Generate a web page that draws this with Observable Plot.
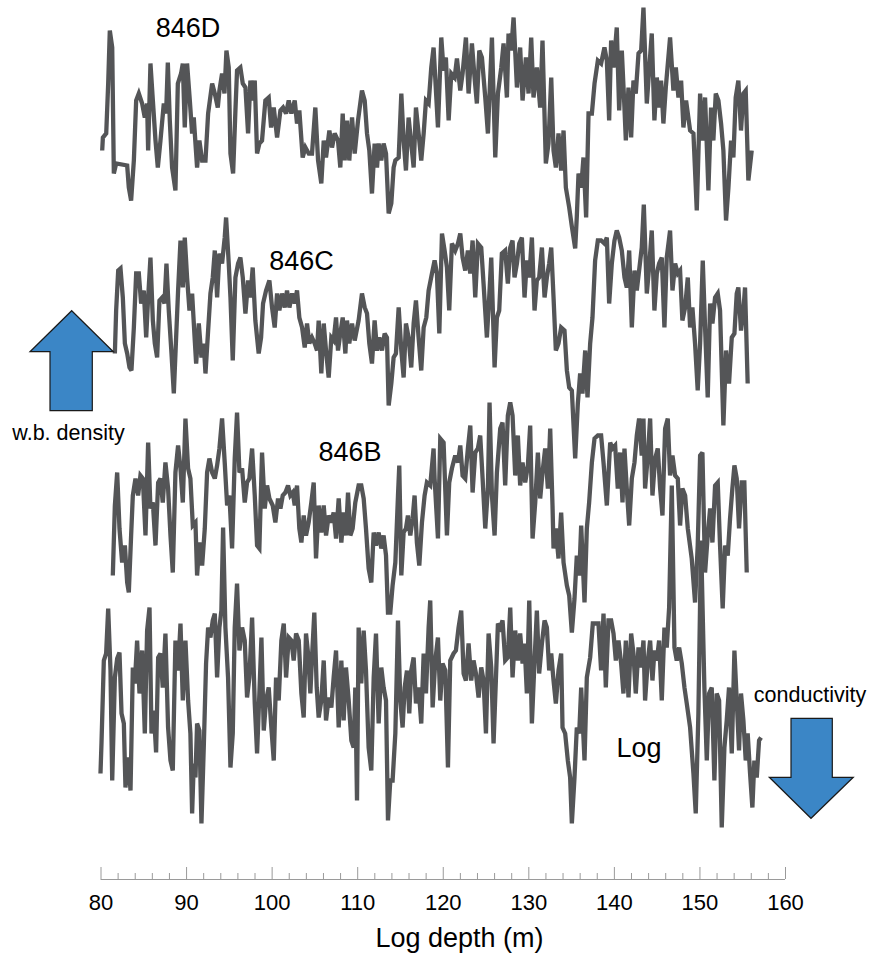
<!DOCTYPE html>
<html>
<head>
<meta charset="utf-8">
<script src="https://cdn.jsdelivr.net/npm/d3@7"></script>
<script src="https://cdn.jsdelivr.net/npm/@observablehq/plot@0.6"></script>
<style>
  html, body { margin: 0; padding: 0; background: #fff; }
  #chart { width: 871px; height: 957px; }
  svg { font-family: "Liberation Sans", Arial, Helvetica, sans-serif; }
</style>
</head>
<body>
<div id="chart"></div>
<script>
// ---- DATA (depth in m, signal value in arbitrary stacked units) ----
const seriesNames = ["846D", "846C", "846B", "Log"];
const arrowLabels = ["w.b. density", "conductivity"];
const axisTitle = "Log depth (m)";
const majorTicks = [80, 90, 100, 110, 120, 130, 140, 150, 160];
const minorTicks = [82, 84, 86, 88, 92, 94, 96, 98, 102, 104, 106, 108, 112, 114, 116, 118, 122, 124, 126, 128, 132, 134, 136, 138, 142, 144, 146, 148, 152, 154, 156, 158];

const hole846D = [[80.14,716],[80.22,729],[80.61,733],[80.84,783],[81.03,836],[81.31,819],[81.50,693],[81.77,703],[83.06,701],[83.25,679],[83.52,666],[83.84,706],[84.11,766],[84.42,773],[84.81,763],[85.12,749],[85.39,763],[85.51,716],[85.78,803],[86.06,766],[86.37,726],[86.64,699],[86.95,726],[87.34,763],[87.61,753],[87.81,804],[88.04,746],[88.31,699],[88.70,676],[88.98,783],[89.36,793],[89.56,803],[89.79,739],[90.06,803],[90.38,766],[90.65,733],[90.84,749],[91.23,699],[91.50,726],[91.82,706],[92.21,706],[92.52,753],[92.99,783],[93.30,773],[93.65,759],[93.84,776],[94.15,793],[94.43,773],[94.66,816],[94.93,799],[95.13,713],[95.44,693],[95.71,756],[95.90,796],[96.29,799],[96.57,783],[96.88,779],[97.19,733],[97.46,786],[97.66,766],[97.97,786],[98.24,713],[98.51,723],[98.82,726],[99.21,766],[99.60,769],[99.88,739],[100.19,759],[100.58,729],[100.97,756],[101.28,759],[101.63,753],[101.94,766],[102.25,753],[102.64,766],[102.91,743],[103.18,756],[103.57,709],[103.89,719],[104.28,713],[104.66,713],[105.05,759],[105.37,706],[105.75,683],[106.03,726],[106.30,709],[106.69,736],[107.00,719],[107.31,733],[107.70,726],[107.97,699],[108.25,753],[108.48,706],[108.75,746],[109.02,706],[109.34,749],[109.65,713],[110.04,746],[110.50,776],[110.82,766],[111.09,733],[111.36,716],[111.67,673],[111.98,723],[112.26,699],[112.45,723],[112.76,706],[113.03,723],[113.31,713],[113.62,653],[113.93,663],[114.20,699],[114.40,706],[114.79,709],[115.10,773],[115.37,726],[115.64,696],[115.95,749],[116.26,723],[116.54,699],[116.81,759],[117.12,733],[117.43,706],[117.71,733],[117.98,766],[118.29,763],[118.60,799],[118.87,819],[119.38,739],[119.77,829],[120.04,796],[120.31,809],[120.63,746],[120.94,793],[121.33,789],[121.60,808],[121.99,776],[122.26,793],[122.65,829],[122.96,773],[123.35,823],[123.66,789],[123.93,763],[124.21,816],[124.52,809],[124.91,769],[125.22,733],[125.69,829],[126.08,709],[126.39,773],[126.78,799],[127.05,823],[127.44,769],[127.63,833],[127.94,816],[128.22,849],[128.61,779],[128.99,819],[129.27,766],[129.66,809],[129.97,773],[130.28,829],[130.55,769],[130.94,799],[131.33,759],[131.60,826],[131.99,703],[132.30,723],[132.62,789],[132.89,716],[133.16,699],[133.47,733],[133.78,696],[134.06,736],[134.33,679],[134.72,659],[135.03,640],[135.42,618],[135.61,650],[135.81,693],[136.12,679],[136.39,709],[136.70,649],[136.98,753],[137.37,753],[137.68,783],[138.07,806],[138.45,803],[138.84,819],[139.12,806],[139.39,746],[139.62,826],[139.90,799],[140.28,839],[140.56,756],[140.87,816],[141.14,766],[141.34,726],[141.65,779],[141.96,729],[142.23,786],[142.50,773],[142.82,813],[143.13,816],[143.40,859],[143.79,763],[144.06,796],[144.37,833],[144.68,746],[144.96,789],[145.23,759],[145.46,786],[145.73,743],[146.01,779],[146.51,829],[146.90,776],[147.18,799],[147.49,769],[147.80,786],[148.07,739],[148.38,766],[148.85,736],[149.24,733],[149.63,656],[150.02,773],[150.29,726],[150.60,769],[150.99,676],[151.30,759],[151.57,726],[151.85,773],[152.16,766],[152.47,743],[152.74,716],[153.05,646],[153.33,679],[153.64,726],[153.91,709],[154.18,769],[154.49,786],[154.80,736],[155.08,773],[155.35,776],[155.66,686],[156.05,716]];

const hole846C = [[81.62,513],[81.77,556],[82.01,596],[82.28,598],[82.55,569],[82.79,523],[83.06,513],[83.33,499],[83.56,496],[83.84,539],[84.11,593],[84.42,593],[84.69,563],[85.00,576],[85.28,529],[85.51,569],[85.78,609],[86.06,546],[86.29,523],[86.56,509],[86.83,566],[87.15,569],[87.42,563],[87.65,603],[87.92,556],[88.24,513],[88.51,473],[88.78,529],[89.01,576],[89.29,626],[89.56,579],[89.79,629],[90.06,589],[90.34,556],[90.65,573],[90.96,526],[91.12,503],[91.43,543],[91.74,509],[92.01,523],[92.21,493],[92.52,536],[92.79,573],[93.06,589],[93.30,616],[93.57,569],[93.84,613],[94.15,603],[94.46,629],[94.62,649],[94.93,603],[95.13,569],[95.40,506],[95.71,589],[96.02,603],[96.29,609],[96.57,589],[96.88,553],[97.19,586],[97.46,569],[97.73,599],[98.04,546],[98.43,513],[98.71,529],[98.94,563],[99.29,576],[99.68,586],[99.99,559],[100.30,539],[100.58,573],[100.85,556],[101.16,573],[101.47,559],[101.74,576],[102.02,559],[102.33,573],[102.64,563],[102.91,576],[103.18,549],[103.50,539],[103.81,519],[104.08,543],[104.35,523],[104.66,529],[104.98,523],[105.25,516],[105.44,546],[105.75,493],[106.03,543],[106.30,516],[106.61,489],[106.92,529],[107.19,526],[107.47,549],[107.70,516],[107.97,533],[108.25,549],[108.56,513],[108.75,546],[109.02,523],[109.34,543],[109.65,526],[110.11,546],[110.50,573],[110.82,559],[111.09,553],[111.36,523],[111.67,503],[111.98,546],[112.26,516],[112.53,529],[112.84,516],[113.15,533],[113.42,529],[113.62,461],[113.93,483],[114.20,509],[114.47,513],[114.79,559],[115.10,516],[115.37,489],[115.64,543],[115.95,529],[116.26,499],[116.54,543],[116.81,566],[117.12,529],[117.43,496],[117.71,539],[118.02,549],[118.29,576],[118.68,593],[118.99,606],[119.26,593],[119.54,533],[119.85,633],[120.16,616],[120.43,599],[120.70,556],[121.01,623],[121.40,616],[121.72,623],[121.99,633],[122.26,609],[122.57,596],[122.88,616],[123.16,593],[123.43,626],[123.74,569],[124.05,623],[124.44,619],[124.71,583],[125.10,529],[125.37,569],[125.61,609],[126.00,499],[126.27,549],[126.54,556],[126.85,613],[127.24,616],[127.55,583],[127.83,619],[128.10,626],[128.33,589],[128.61,603],[128.88,623],[129.19,629],[129.50,569],[129.77,606],[130.05,589],[130.36,629],[130.67,556],[130.94,586],[131.21,589],[131.53,619],[131.84,569],[132.11,589],[132.38,603],[132.62,619],[132.89,569],[133.16,516],[133.47,523],[133.78,539],[134.17,536],[134.45,496],[134.72,479],[135.03,476],[135.42,408],[135.73,463],[136.00,493],[136.27,473],[136.59,516],[136.86,469],[137.17,523],[137.44,549],[137.75,606],[138.07,626],[138.45,626],[138.84,623],[139.12,629],[139.39,563],[139.70,603],[140.01,626],[140.28,636],[140.56,629],[140.87,616],[141.18,589],[141.45,579],[141.73,616],[142.04,539],[142.35,596],[142.62,576],[142.89,596],[143.20,619],[143.44,662],[143.79,573],[144.06,599],[144.37,636],[144.68,556],[144.96,593],[145.23,603],[145.54,609],[145.85,539],[146.12,609],[146.51,636],[146.79,576],[147.10,603],[147.41,593],[147.68,596],[147.95,546],[148.27,559],[148.58,589],[148.85,539],[149.12,559],[149.43,523],[149.74,476],[150.02,523],[150.33,606],[150.60,539],[150.91,469],[151.19,563],[151.46,543],[151.77,569],[152.08,573],[152.35,556],[152.74,441],[153.05,516],[153.40,483],[153.72,529],[154.03,533],[154.30,573],[154.49,579],[154.80,536],[155.08,556],[155.27,579],[155.58,483]];

const hole846B = [[81.38,291],[81.62,361],[81.89,394],[82.16,338],[82.47,304],[82.79,321],[83.06,284],[83.25,274],[83.52,331],[83.72,371],[84.03,388],[84.34,371],[84.61,391],[84.89,388],[85.20,331],[85.51,424],[85.78,358],[86.06,364],[86.37,321],[86.68,384],[86.95,388],[87.22,364],[87.53,404],[87.84,378],[88.12,331],[88.39,294],[88.70,394],[89.01,421],[89.29,398],[89.56,364],[89.87,448],[90.18,398],[90.45,388],[90.73,341],[91.04,344],[91.23,291],[91.50,324],[91.82,301],[92.13,338],[92.40,394],[92.67,408],[92.99,394],[93.30,388],[93.57,401],[93.84,418],[94.15,448],[94.46,404],[94.74,361],[95.01,371],[95.32,318],[95.63,408],[95.90,454],[96.18,394],[96.49,398],[96.80,364],[97.07,384],[97.34,388],[97.66,418],[97.97,371],[98.24,321],[98.51,318],[98.82,414],[99.14,358],[99.41,381],[99.68,368],[100.07,361],[100.38,344],[100.69,368],[100.97,358],[101.24,371],[101.55,374],[101.86,381],[102.13,371],[102.41,374],[102.64,361],[102.91,381],[103.18,338],[103.42,324],[103.69,351],[103.96,331],[104.27,344],[104.58,364],[104.86,384],[105.13,308],[105.44,361],[105.75,334],[106.03,361],[106.30,331],[106.61,351],[106.92,344],[107.19,354],[107.47,328],[107.78,368],[108.09,324],[108.36,354],[108.63,331],[108.87,374],[109.14,331],[109.41,338],[109.72,364],[110.11,381],[110.42,381],[110.70,368],[110.97,338],[111.28,298],[111.59,284],[111.87,334],[112.14,321],[112.45,334],[112.76,318],[113.03,331],[113.31,311],[113.54,254],[113.81,254],[114.08,281],[114.40,304],[114.71,371],[114.86,401],[115.10,291],[115.37,334],[115.64,338],[115.87,351],[116.15,331],[116.42,348],[116.65,371],[116.92,324],[117.20,301],[117.51,344],[117.82,371],[118.09,384],[118.48,381],[118.87,418],[118.99,388],[119.38,328],[119.65,428],[120.04,424],[120.43,331],[120.70,384],[121.01,398],[121.40,411],[121.72,404],[121.99,421],[122.26,391],[122.57,388],[122.88,418],[123.16,441],[123.43,374],[123.74,414],[124.05,418],[124.32,431],[124.60,388],[124.91,338],[125.22,378],[125.41,464],[125.69,371],[126.00,331],[126.27,394],[126.66,438],[126.93,444],[127.24,381],[127.55,451],[127.83,464],[128.10,451],[128.41,391],[128.72,431],[128.99,381],[129.27,404],[129.58,384],[129.89,401],[130.16,441],[130.44,328],[130.75,364],[131.06,414],[131.33,368],[131.60,394],[131.91,418],[132.23,378],[132.50,438],[132.77,361],[132.89,318],[133.16,338],[133.47,308],[133.78,354],[134.06,304],[134.45,281],[134.72,271],[135.03,234],[135.34,268],[135.61,311],[135.89,291],[136.12,341],[136.51,264],[136.78,338],[137.05,364],[137.37,404],[137.68,428],[138.07,431],[138.45,431],[138.73,404],[139.12,361],[139.51,424],[139.78,418],[140.09,421],[140.40,378],[140.67,414],[140.95,364],[141.18,418],[141.45,378],[141.73,341],[142.04,388],[142.35,404],[142.62,431],[142.89,448],[143.20,411],[143.40,448],[143.59,378],[143.91,411],[144.18,448],[144.45,371],[144.76,408],[145.07,418],[145.35,378],[145.62,351],[145.93,438],[146.24,448],[146.51,391],[146.79,411],[147.10,391],[147.41,388],[147.68,341],[147.95,378],[148.27,371],[148.58,338],[149.04,308],[149.43,264],[149.74,321],[150.02,411],[150.29,414],[150.60,294],[150.91,331],[151.19,358],[151.46,324],[151.77,381],[152.08,384],[152.35,321],[152.66,258],[152.94,321],[153.25,311],[153.52,348],[153.79,378],[154.03,401],[154.30,388],[154.57,338],[154.88,384],[155.19,384],[155.47,294]];

const logTrace = [[79.94,93],[80.06,124],[80.33,206],[80.60,213],[80.84,258],[81.11,196],[81.31,86],[81.62,189],[81.89,208],[82.16,214],[82.40,153],[82.67,143],[82.86,79],[83.17,109],[83.45,76],[83.72,199],[83.95,183],[84.22,226],[84.50,173],[84.81,216],[85.12,133],[85.39,236],[85.67,259],[85.90,133],[86.17,156],[86.44,114],[86.68,209],[86.95,213],[87.22,179],[87.53,233],[87.84,139],[88.12,106],[88.39,96],[88.70,226],[89.01,196],[89.29,243],[89.56,166],[89.87,226],[90.18,166],[90.45,133],[90.65,53],[90.84,103],[91.04,89],[91.23,143],[91.50,136],[91.74,43],[92.01,119],[92.28,203],[92.52,239],[92.79,229],[93.06,246],[93.30,253],[93.57,189],[93.84,239],[94.07,256],[94.27,339],[94.54,239],[94.85,189],[95.13,99],[95.40,133],[95.63,239],[95.90,283],[96.18,216],[96.49,239],[96.80,226],[97.07,169],[97.34,189],[97.66,249],[97.97,163],[98.24,113],[98.51,173],[98.75,229],[99.02,136],[99.29,166],[99.60,179],[99.91,139],[100.19,106],[100.46,189],[100.77,166],[101.08,226],[101.36,243],[101.63,189],[101.94,229],[102.25,226],[102.52,206],[102.80,233],[103.11,226],[103.42,173],[103.69,149],[103.96,233],[104.20,213],[104.47,173],[104.66,209],[104.93,254],[105.21,179],[105.44,149],[105.75,166],[106.03,206],[106.30,146],[106.61,169],[106.92,159],[107.19,189],[107.47,216],[107.78,139],[108.09,206],[108.36,146],[108.63,199],[108.95,166],[109.26,126],[109.53,119],[109.72,179],[109.92,66],[110.11,239],[110.42,183],[110.70,236],[110.97,196],[111.28,119],[111.59,96],[111.87,189],[112.14,233],[112.45,143],[112.76,199],[113.03,179],[113.31,166],[113.54,46],[113.81,86],[114.08,86],[114.40,133],[114.71,246],[114.98,166],[115.25,139],[115.49,179],[115.76,196],[116.03,153],[116.26,196],[116.54,209],[116.81,163],[117.12,179],[117.43,143],[117.71,213],[117.98,173],[118.29,239],[118.48,266],[118.76,159],[119.07,206],[119.38,229],[119.65,166],[119.92,203],[120.24,196],[120.55,99],[120.82,206],[121.21,213],[121.48,216],[121.79,239],[122.10,256],[122.38,193],[122.65,186],[122.96,223],[123.27,186],[123.54,206],[123.82,193],[124.13,169],[124.44,199],[124.71,186],[124.99,133],[125.30,233],[125.61,199],[125.88,123],[126.15,186],[126.39,243],[126.66,239],[126.93,246],[127.24,206],[127.55,209],[127.83,259],[128.10,189],[128.41,236],[128.72,206],[128.99,233],[129.27,203],[129.50,223],[129.77,173],[130.05,266],[130.36,143],[130.67,206],[130.94,256],[131.21,193],[131.53,223],[131.84,246],[132.11,239],[132.38,196],[132.62,213],[132.89,186],[133.16,163],[133.47,196],[133.78,213],[133.94,139],[134.25,133],[134.56,106],[134.83,89],[135.03,43],[135.34,89],[135.61,139],[135.89,133],[136.12,179],[136.51,106],[136.78,189],[137.17,209],[137.48,243],[137.83,243],[138.14,243],[138.45,196],[138.73,253],[139.00,179],[139.31,246],[139.62,246],[139.90,233],[140.17,206],[140.48,226],[140.79,203],[141.06,173],[141.34,226],[141.65,169],[141.96,233],[142.23,213],[142.50,173],[142.82,219],[143.13,199],[143.40,226],[143.59,166],[143.91,206],[144.18,226],[144.45,186],[144.68,216],[144.96,206],[145.23,226],[145.54,166],[145.85,239],[146.12,219],[146.40,259],[146.71,381],[147.02,219],[147.29,206],[147.57,219],[147.88,203],[148.19,179],[148.46,163],[148.85,139],[149.24,93],[149.51,53],[149.82,153],[150.13,326],[150.52,179],[150.80,106],[151.07,173],[151.38,179],[151.69,86],[151.96,173],[152.24,166],[152.55,39],[152.86,119],[153.13,146],[153.40,179],[153.72,113],[154.03,216],[154.30,166],[154.57,116],[154.80,173],[155.08,146],[155.35,106],[155.58,133],[155.86,93],[156.13,59],[156.36,106],[156.64,89],[156.91,126],[157.14,129]];

// ---- build table ----
const traces = [hole846D, hole846C, hole846B, logTrace];
const rows = traces.flatMap((arr, i) => arr.map(([depth, value]) => ({series: seriesNames[i], depth, value})));

const W = 871, H = 957;
const lineColor = "#545557";
const blue = "#3b86c6";

const plot = Plot.plot({
  width: W,
  height: H,
  marginLeft: 100.5,
  marginRight: 86,
  marginTop: 0,
  marginBottom: 90,
  x: {domain: [80, 160]},
  y: {domain: [-1, 866], axis: null},
  style: {fontFamily: "'Liberation Sans', Arial, Helvetica, sans-serif", background: "white", overflow: "visible"},
  marks: [
    Plot.ruleY([-1], {dy: 12, stroke: "#9a9a9a", strokeWidth: 1}),
    Plot.axisX(minorTicks, {tickSize: 6, dy: 6, tickFormat: () => "", stroke: "#9a9a9a", label: null}),
    Plot.axisX(majorTicks, {tickSize: 12, tickPadding: 15, fontSize: 22, stroke: "#9a9a9a", fill: "black", label: null}),
    Plot.line(rows, {x: "depth", y: "value", z: "series", stroke: lineColor, strokeWidth: 4.3, strokeLinejoin: "miter", strokeMiterlimit: 3, strokeLinecap: "butt", curve: "linear"})
  ]
});

document.getElementById("chart").appendChild(plot);

// ---- annotations (pixel placement) ----
const svg = d3.select(plot);
const ff = "'Liberation Sans', Arial, Helvetica, sans-serif";
const seriesLabelPos = [[188, 37], [301.5, 270], [350, 461], [639, 757]];
seriesNames.forEach((name, i) => {
  svg.append("text").attr("x", seriesLabelPos[i][0]).attr("y", seriesLabelPos[i][1])
    .attr("text-anchor", "middle").attr("font-size", 27).attr("font-family", ff).attr("fill", "black").text(name);
});
svg.append("text").attr("x", 68.5).attr("y", 440).attr("text-anchor", "middle")
  .attr("font-size", 21.5).attr("font-family", ff).attr("fill", "black").text(arrowLabels[0]);
svg.append("text").attr("x", 810).attr("y", 702).attr("text-anchor", "middle")
  .attr("font-size", 21.5).attr("font-family", ff).attr("fill", "black").text(arrowLabels[1]);
svg.append("text").attr("x", 459.5).attr("y", 947).attr("text-anchor", "middle")
  .attr("font-size", 27).attr("font-family", ff).attr("fill", "black").text(axisTitle);

// arrows
svg.append("path")
  .attr("d", "M71.7,310.7 L113.3,351.7 L92.3,351.7 L92.3,410.7 L50,410.7 L50,351.7 L30,351.7 Z")
  .attr("fill", blue).attr("stroke", "#1a1a1a").attr("stroke-width", 1.2).attr("stroke-linejoin", "miter");
svg.append("path")
  .attr("d", "M791,718.3 L832.3,718.3 L832.3,777.3 L853.3,777.3 L811,818.3 L769.3,777.3 L791,777.3 Z")
  .attr("fill", blue).attr("stroke", "#1a1a1a").attr("stroke-width", 1.2).attr("stroke-linejoin", "miter");
</script>
</body>
</html>
